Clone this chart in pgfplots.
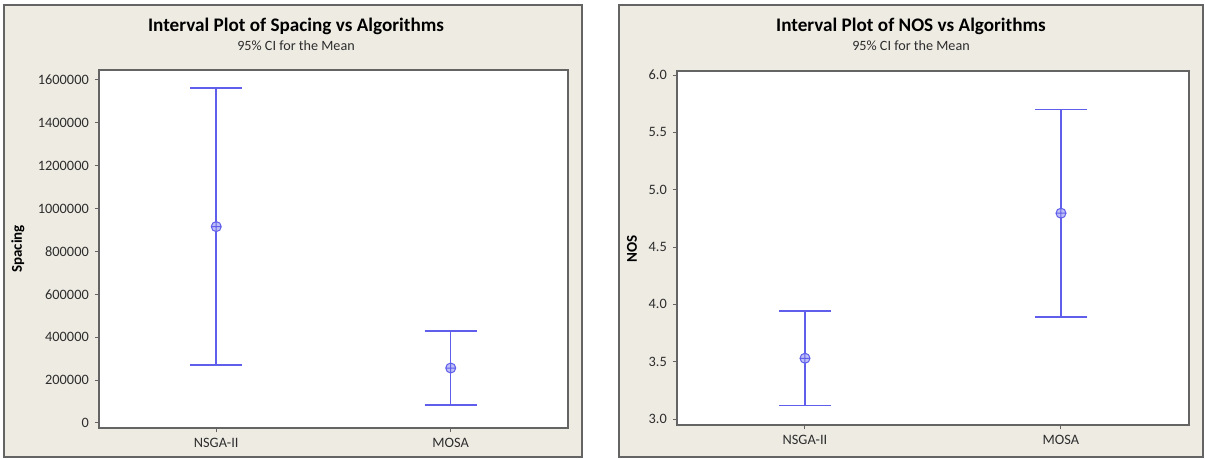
\documentclass[border=0pt]{standalone}
\usepackage{pgfplots}
\pgfplotsset{compat=1.18}
\usepackage{fontspec}
\setmainfont{Carlito}
\definecolor{panelbg}{RGB}{238,235,227}
\definecolor{framec}{RGB}{100,100,100}
\definecolor{ci}{RGB}{95,95,235}
\definecolor{txt}{RGB}{45,45,45}
\pgfplotsset{
  ivstyle/.style={
    scale only axis, anchor=south west,
    axis background/.style={fill=white},
    axis line style={framec, line width=0.9pt},
    xmin=-0.5, xmax=1.5, xtick={0,1}, xticklabels={NSGA-II,MOSA},
    tick align=outside, tick pos=left, major tick length=2.6pt,
    tick style={framec, line width=0.6pt},
    ticklabel style={font=\fontsize{8.6}{10}\selectfont, text=txt},
    /pgf/number format/assume math mode=true,
    scaled y ticks=false,
    clip=false,
  },
  ebar/.style={only marks, mark=none,
    error bars/.cd, y dir=both, y explicit, error mark=-,
    error bar style={draw=ci, line width=0.9pt},
    error mark options={draw=ci, line width=0.9pt, mark size=15.6pt, rotate=90}},
  mmark/.style={only marks, mark=oplus*, mark size=3pt,
    mark options={draw=ci, fill=ci!40, line width=0.6pt}},
}
\begin{document}
\begin{tikzpicture}[x=0.6pt,y=0.6pt]
\useasboundingbox (0,0) rectangle (1205,459);
\fill[white] (0,0) rectangle (1205,459);
\draw[framec, fill=panelbg, line width=1.0pt] (4,2) rectangle (582,454);
\draw[framec, fill=panelbg, line width=1.0pt] (619,2) rectangle (1203,454);
% titles
\node[font=\fontsize{11.5}{13}\selectfont\bfseries, text=black] at (296,433) {Interval Plot of Spacing vs Algorithms};
\node[font=\fontsize{8.5}{10}\selectfont, text=txt] at (296,413) {95\% CI for the Mean};
\node[font=\fontsize{11.5}{13}\selectfont\bfseries, text=black] at (911,433) {Interval Plot of NOS vs Algorithms};
\node[font=\fontsize{8.5}{10}\selectfont, text=txt] at (911,413) {95\% CI for the Mean};
\node[font=\fontsize{9}{10}\selectfont\bfseries, rotate=90, text=black] at (18,210) {Spacing};
\node[font=\fontsize{9}{10}\selectfont\bfseries, rotate=90, text=black] at (632,210) {NOS};

\begin{axis}[ivstyle, at={(59.4pt,18.6pt)}, width=281.4pt, height=214.8pt,
  ymin=-23300, ymax=1646600, ytick={0,200000,...,1600000},
  yticklabel style={/pgf/number format/fixed, /pgf/number format/1000 sep={}}]
\addplot+[ebar] coordinates {(0,916000) +- (0,646000) (1,256500) +- (0,172600)};
\addplot[mmark] coordinates {(0,916000) (1,256500)};
\end{axis}

\begin{axis}[ivstyle, at={(406.2pt,20.4pt)}, width=307.2pt, height=212.4pt,
  ymin=2.948, ymax=6.035, ytick={3,3.5,...,6},
  yticklabel style={/pgf/number format/fixed, /pgf/number format/fixed zerofill, /pgf/number format/precision=1}]
\addplot+[ebar] coordinates {(0,3.53) +- (0,0.41) (1,4.795) +- (0,0.905)};
\addplot[mmark] coordinates {(0,3.53) (1,4.795)};
\end{axis}
\end{tikzpicture}
\end{document}
